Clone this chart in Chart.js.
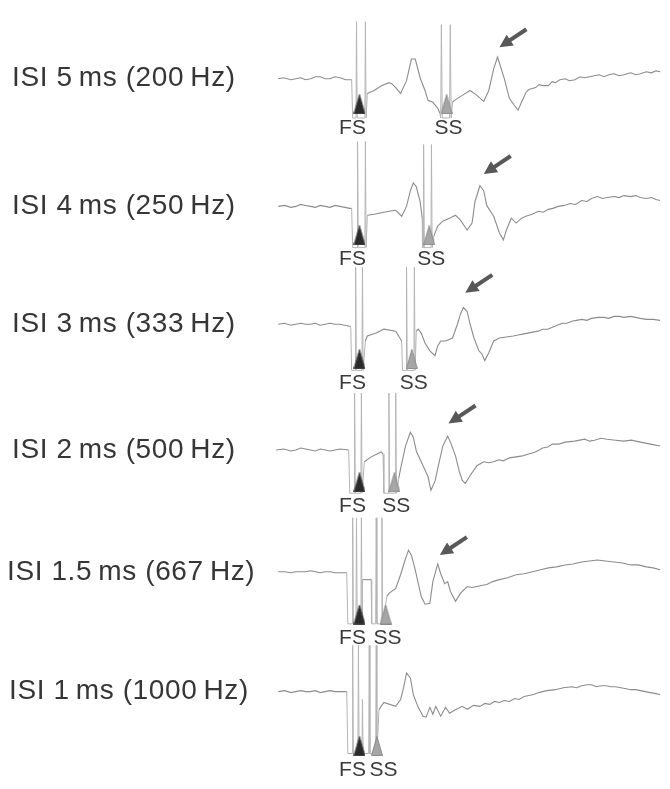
<!DOCTYPE html>
<html>
<head>
<meta charset="utf-8">
<script src="https://cdn.jsdelivr.net/npm/chart.js@4.4.1/dist/chart.umd.min.js"></script>
<style>
  html, body { margin: 0; padding: 0; background: #fff; }
  #wrap { width: 670px; height: 789px; }
</style>
</head>
<body>
<div id="wrap"><canvas id="c" width="670" height="789"></canvas></div>
<script>
// Paired-pulse recordings: first stimulus (FS) at t = 0, second stimulus (SS) after one ISI.
const isiMs = [5, 4, 3, 2, 1.5, 1];
const fsTimes = [0, 0, 0, 0, 0, 0];

// Traces as [time in ms from FS, amplitude in µV (positive up)], stimulus artefacts included.
const traceIsi5 = [
  [-4.66,0],[-4.35,1],[-3.93,-1],[-3.65,0],[-3.37,1],[-3.10,-1],[-2.81,0],[-2.53,2],[-2.25,2],
  [-1.97,0],[-1.69,0],[-1.40,2],[-1.12,1],[-0.79,-1],[-0.45,-1],
  [-0.39,-40],[-0.20,-40],[-0.17,58],[-0.13,-40],[0.31,-40],[0.34,58],[0.38,-40],
  [0.45,-15],[0.84,-12],[1.29,-7],[1.69,-4],[1.85,-5],[2.08,-9],[2.36,-15],[2.70,-2],[2.98,20],
  [3.20,20],[3.48,1],[3.76,-12],[3.93,-22],[4.21,-24],[4.49,-30],[4.61,-35],
  [4.66,-40],[4.70,55],[4.75,-40],[5.17,-40],[5.21,55],[5.26,-40],
  [5.34,-24],[5.45,-22],[5.90,-17],[6.35,-12],[6.74,-17],[7.13,-23],[7.42,-12],[7.70,10],
  [7.92,22],[8.03,16],[8.31,0],[8.60,-20],[8.88,-27],[9.10,-32],[9.27,-25],[9.55,-14],
  [9.72,-11],[10.11,-9],[10.30,-6],[10.51,-7],[10.84,-7],[11.05,-3],[11.24,-4],[11.50,-1],
  [11.80,0],[12.05,-2],[12.36,-1],[12.65,2],[12.92,1],[13.20,2],[13.48,3],[13.75,4],[14.04,2],
  [14.30,4],[14.61,5],[14.90,3],[15.17,4],[15.56,6],[15.85,4],[16.12,5],[16.46,7],[16.75,6],
  [17.02,8],[17.25,7]
];
const traceIsi4 = [
  [-4.66,0],[-4.30,1],[-3.93,-1],[-3.65,0],[-3.37,2],[-3.10,1],[-2.81,0],[-2.53,-1],[-2.25,1],
  [-1.97,0],[-1.69,-1],[-1.40,1],[-1.12,0],[-0.84,-1],[-0.56,-2],[-0.45,-2],
  [-0.39,-42],[-0.14,-42],[-0.11,66],[-0.07,-42],[0.31,-42],[0.34,66],[0.38,-42],
  [0.45,-9],[0.84,-8],[1.12,-7],[1.69,-5],[2.08,-4],[2.42,-10],[2.70,0],[2.92,16],[3.09,24],
  [3.26,20],[3.48,5],[3.60,-12],
  [3.62,-42],[3.65,-42],[3.68,63],[3.72,-42],[4.10,-42],[4.13,63],[4.17,-42],
  [4.27,-30],[4.49,-20],[4.78,-15],[5.17,-12],[5.51,-9],[5.79,-14],[6.18,-24],[6.46,-17],
  [6.63,5],[6.91,21],[7.13,16],[7.30,1],[7.70,-10],[8.03,-27],[8.26,-34],[8.43,-24],
  [8.71,-12],[8.99,-17],[9.30,-12],[9.55,-10],[9.90,-8],[10.28,-5],[10.55,-6],[10.84,-3],
  [11.10,-2],[11.40,0],[11.75,1],[12.08,3],[12.40,2],[12.75,6],[13.05,5],[13.31,8],[13.65,10],
  [13.95,8],[14.21,9],[14.61,10],[14.90,9],[15.17,11],[15.56,10],[15.85,11],[16.12,9],
  [16.46,8],[16.75,9],[17.02,7],[17.25,6]
];
const traceIsi3 = [
  [-4.66,0],[-4.30,1],[-3.93,-1],[-3.65,0],[-3.37,1],[-3.10,0],[-2.81,0],[-2.53,1],[-2.25,-1],
  [-1.97,0],[-1.69,1],[-1.40,0],[-1.12,0],[-0.84,-1],[-0.56,-2],[-0.50,-2],
  [-0.45,-47],[-0.25,-47],[-0.22,58],[-0.18,-47],[0.14,-47],[0.17,58],[0.21,-47],
  [0.34,-17],[0.45,-12],[0.96,-9],[1.40,-5],[2.08,-7],[2.25,-12],[2.42,-17],
  [2.47,-47],[2.67,-47],[2.70,58],[2.74,-47],[3.12,-47],[3.15,58],[3.19,-47],
  [3.26,-7],[3.37,-5],[3.54,-9],[3.76,-19],[4.04,-27],[4.33,-32],[4.49,-22],[4.66,-17],
  [4.94,-17],[5.34,-14],[5.62,0],[5.79,10],[5.96,17],[6.18,13],[6.35,0],[6.57,-14],
  [6.85,-27],[7.02,-30],[7.19,-37],[7.42,-29],[7.70,-17],[8.03,-14],[8.43,-13],[8.82,-12],
  [9.10,-11],[9.38,-10],[9.65,-9],[9.94,-8],[10.25,-7],[10.51,-5],[10.80,-5],[11.07,-3],
  [11.35,-1],[11.63,1],[11.90,1],[12.19,3],[12.45,4],[12.75,5],[13.05,4],[13.31,6],[13.70,7],
  [14.04,7],[14.30,6],[14.61,8],[14.90,8],[15.17,7],[15.56,8],[15.85,7],[16.12,6],[16.46,5],
  [16.85,5],[17.25,4]
];
const traceIsi2 = [
  [-4.78,0],[-4.35,1],[-3.93,-1],[-3.65,0],[-3.37,2],[-3.10,1],[-2.81,0],[-2.53,-1],[-2.25,1],
  [-1.97,0],[-1.69,-1],[-1.40,0],[-1.12,1],[-0.62,0],
  [-0.56,-44],[-0.31,-44],[-0.28,58],[-0.24,-44],[0.08,-44],[0.11,58],[0.15,-44],
  [0.28,-12],[0.67,-7],[1.24,-2],[1.35,-4],
  [1.40,-44],[1.66,-44],[1.69,58],[1.73,-44],[2.05,-44],[2.08,58],[2.12,-44],
  [2.25,-29],[2.36,-19],[2.64,4],[2.92,18],[3.09,13],[3.26,-1],[3.54,-12],[3.93,-27],
  [4.10,-41],[4.33,-32],[4.49,-19],[4.78,4],[5.06,14],[5.22,8],[5.51,-6],[5.73,-22],
  [5.90,-31],[6.07,-34],[6.35,-26],[6.74,-16],[7.13,-12],[7.40,-13],[7.70,-12],[8.00,-10],
  [8.26,-11],[8.60,-8],[8.99,-7],[9.35,-6],[9.72,-4],[10.10,-2],[10.51,2],[10.80,3],[11.07,6],
  [11.45,6],[11.80,8],[12.35,9],[12.92,11],[13.20,9],[13.48,10],[13.85,12],[14.21,11],
  [14.70,10],[15.17,9],[15.60,10],[16.12,8],[16.70,6],[17.25,4]
];
const traceIsi1p5 = [
  [-4.66,0],[-4.30,0],[-3.93,-1],[-3.65,0],[-3.37,0],[-3.10,0],[-2.81,1],[-2.53,0],[-2.25,-1],
  [-1.97,0],[-1.69,0],[-1.40,-1],[-1.12,-1],[-0.73,-1],
  [-0.67,-53],[-0.42,-53],[-0.39,55],[-0.35,-53],[-0.20,-53],[-0.17,55],[-0.13,-53],
  [0.08,-53],[0.11,55],[0.15,-53],[0.17,-53],[0.18,-8],[0.67,-8],[0.70,-53],
  [0.93,-53],[0.96,55],[1.00,-53],[1.26,-53],[1.29,55],[1.33,-53],
  [1.57,-25],[1.69,-22],[2.08,-17],[2.36,-3],[2.58,10],[2.81,22],[2.98,17],[3.20,2],
  [3.54,-25],[3.76,-33],[4.04,-32],[4.21,-10],[4.49,8],[4.66,-2],[4.89,-12],[5.06,-10],
  [5.22,-20],[5.51,-30],[5.79,-22],[6.18,-15],[6.45,-16],[6.74,-15],[7.00,-14],[7.30,-13],
  [7.65,-10],[8.03,-8],[8.50,-6],[8.99,-3],[9.45,-2],[9.94,0],[10.40,2],[10.84,4],[11.30,5],
  [11.80,7],[12.25,8],[12.75,10],[13.20,11],[13.65,12],[14.10,11],[14.61,10],[15.10,9],
  [15.56,7],[16.00,7],[16.46,5],[16.85,4],[17.25,2]
];
const traceIsi1 = [
  [-4.66,0],[-4.30,1],[-3.93,-1],[-3.65,0],[-3.37,1],[-3.10,0],[-2.81,0],[-2.53,1],[-2.25,-1],
  [-1.97,0],[-1.69,1],[-1.40,0],[-1.12,0],[-0.73,0],
  [-0.67,-63],[-0.42,-63],[-0.39,47],[-0.35,-63],[-0.09,-63],[-0.06,47],[-0.02,-63],
  [0.14,-63],[0.17,-8],[0.21,-63],[0.53,-63],[0.56,47],[0.60,-63],[0.93,-63],[0.96,47],[1.00,-63],
  [1.12,-18],[1.40,-11],[2.08,-15],[2.36,-8],[2.53,4],[2.70,19],[2.92,14],[3.09,-3],
  [3.37,-16],[3.65,-25],[3.82,-26],[4.04,-16],[4.21,-23],[4.38,-15],[4.66,-25],[4.94,-16],
  [5.17,-22],[5.45,-19],[5.90,-15],[6.18,-18],[6.55,-14],[6.91,-15],[7.20,-12],[7.47,-13],
  [7.75,-10],[8.03,-11],[8.30,-9],[8.60,-10],[8.90,-7],[9.16,-8],[9.45,-5],[9.72,-4],[10.00,-3],
  [10.28,-1],[10.75,1],[11.24,2],[11.70,4],[12.19,5],[12.45,4],[12.75,6],[13.05,7],[13.31,7],
  [13.60,5],[13.88,6],[14.15,6],[14.44,5],[14.70,5],[15.00,4],[15.30,3],[15.56,2],[15.85,2],
  [16.12,1],[16.40,0],[16.69,-1],[17.00,-2],[17.25,-3]
];
const traces = [traceIsi5, traceIsi4, traceIsi3, traceIsi2, traceIsi1p5, traceIsi1];

// Late response flagged by an arrow (time in ms, amplitude in µV); none for ISI 1 ms.
const arrowTime = [8.03, 7.13, 6.07, 5.11, 4.61, null];
const arrowAmp  = [32, 33, 32, 27, 17, null];

// ---- layout ----
const W = 670, H = 789;
const X0 = 360, PX_PER_MS = 17.8;              // where t = 0 sits, and horizontal gain
const rowBase = [73, 203, 323, 451, 575, 697];  // baseline of each trace, from the top
const markerDrop = [26, 29.5, 35.5, 33, 43.5, 55.5];
const labelX = [12, 12, 12, 12, 7, 9];
const ARROW_DX = 27, ARROW_DY = -18;

const yOf = (i, amp) => H - rowBase[i] + amp;

function triangleSprite(fill, edge) {
  const cv = document.createElement('canvas');
  cv.width = 12; cv.height = 20;
  const g = cv.getContext('2d');
  g.beginPath();
  g.moveTo(6, 0.5); g.lineTo(11.5, 19.5); g.lineTo(0.5, 19.5); g.closePath();
  g.fillStyle = fill; g.fill();
  g.strokeStyle = edge; g.lineWidth = 1; g.stroke();
  return cv;
}
const fsSprite = triangleSprite('#2a2a2a', '#444');
const ssSprite = triangleSprite('#a6a6a6', '#8a8a8a');

// Stimulus-artefact segments (pulses down to the trace minimum and up to the spikes) are drawn fainter.
const datasets = traces.map((tr, i) => {
  const amps = tr.map(p => p[1]);
  const lo = Math.min(...amps), base = H - rowBase[i];
  const isArtefact = v => (v - base) <= lo + 0.5 || (v - base) >= 45;
  return {
    type: 'line',
    data: tr.map(([t, a]) => ({ x: t, y: yOf(i, a) })),
    borderColor: '#8c8c8c',
    borderWidth: 1.1,
    pointRadius: 0,
    tension: 0,
    order: 2,
    segment: {
      borderColor: c => (isArtefact(c.p0.parsed.y) || isArtefact(c.p1.parsed.y)) ? '#b4b4b4' : undefined,
      borderWidth: c => (isArtefact(c.p0.parsed.y) || isArtefact(c.p1.parsed.y)) ? 1 : undefined
    }
  };
});
datasets.push({
  type: 'scatter',
  data: fsTimes.map((t, i) => ({ x: t, y: yOf(i, -markerDrop[i]) })),
  pointStyle: fsSprite, pointRadius: 6, order: 0
});
datasets.push({
  type: 'scatter',
  data: isiMs.map((t, i) => ({ x: t, y: yOf(i, -markerDrop[i]) })),
  pointStyle: ssSprite, pointRadius: 6, order: 0
});

const annotate = {
  id: 'annotate',
  afterDatasetsDraw(chart) {
    const { ctx, scales: { x, y } } = chart;
    ctx.save();
    // row titles
    ctx.fillStyle = '#363636';
    ctx.font = '28px "Liberation Sans", Arial, sans-serif';
    ctx.textBaseline = 'middle';
    ctx.textAlign = 'left';
    if ('letterSpacing' in ctx) ctx.letterSpacing = '0.6px';
    isiMs.forEach((isi, i) => {
      const hz = Math.round(1000 / isi);
      ctx.fillText('ISI ' + isi + '\u2009ms (' + hz + '\u2009Hz)', labelX[i], y.getPixelForValue(yOf(i, 0)));
    });
    // FS / SS tags under the markers
    ctx.font = '21px "Liberation Sans", Arial, sans-serif';
    ctx.textAlign = 'center';
    ctx.fillStyle = '#3a3a3a';
    if ('letterSpacing' in ctx) ctx.letterSpacing = '0px';
    isiMs.forEach((isi, i) => {
      const ty = y.getPixelForValue(yOf(i, -markerDrop[i])) + 24;
      const fx = x.getPixelForValue(fsTimes[i]) - 7;
      const sx = Math.max(x.getPixelForValue(isi) + 2, fx + 31);
      ctx.fillText('FS', fx, ty);
      ctx.fillText('SS', sx, ty);
    });
    // arrows
    ctx.fillStyle = '#585858';
    ctx.strokeStyle = '#585858';
    arrowTime.forEach((t, i) => {
      if (t === null) return;
      const tx = x.getPixelForValue(t), ty = y.getPixelForValue(yOf(i, arrowAmp[i]));
      const sx = tx + ARROW_DX, sy = ty + ARROW_DY;
      const len = Math.hypot(ARROW_DX, ARROW_DY);
      const ux = (tx - sx) / len, uy = (ty - sy) / len;
      const head = 13, half = 6.5;
      const bx = tx - ux * head, by = ty - uy * head;
      ctx.lineWidth = 4;
      ctx.beginPath(); ctx.moveTo(sx, sy); ctx.lineTo(bx + ux * 2, by + uy * 2); ctx.stroke();
      ctx.beginPath();
      ctx.moveTo(tx, ty);
      ctx.lineTo(bx - uy * half, by + ux * half);
      ctx.lineTo(bx + uy * half, by - ux * half);
      ctx.closePath(); ctx.fill();
    });
    ctx.restore();
  }
};

new Chart(document.getElementById('c'), {
  data: { datasets },
  options: {
    responsive: false,
    animation: false,
    events: [],
    layout: { padding: 0 },
    plugins: { legend: { display: false }, tooltip: { enabled: false } },
    scales: {
      x: { type: 'linear', display: false, min: -X0 / PX_PER_MS, max: (W - X0) / PX_PER_MS },
      y: { type: 'linear', display: false, min: 0, max: H }
    }
  },
  plugins: [annotate]
});
</script>
</body>
</html>
